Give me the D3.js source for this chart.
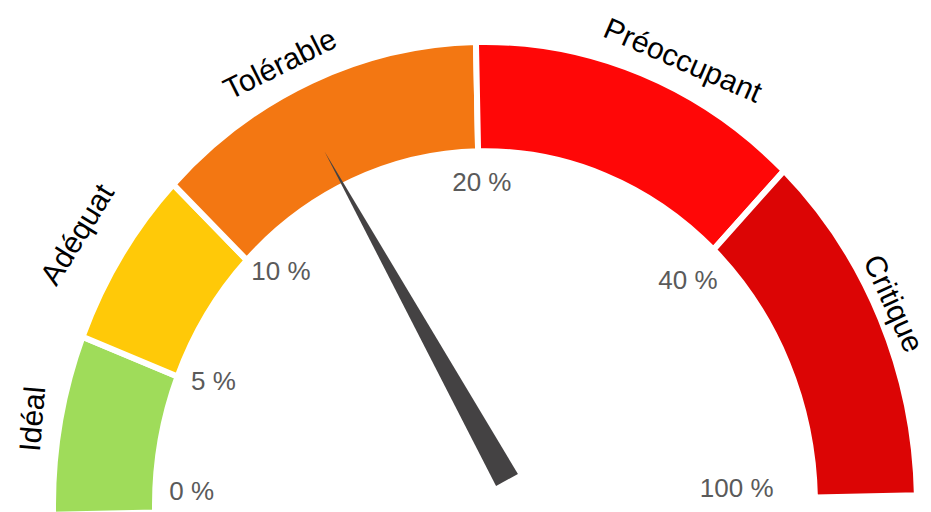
<!DOCTYPE html>
<html>
<head>
<meta charset="utf-8">
<script src="https://cdn.jsdelivr.net/npm/d3@7"></script>
<style>
  html,body{margin:0;padding:0;background:#fff;}
  svg{display:block;font-family:"Liberation Sans",Arial,sans-serif;}
</style>
</head>
<body>
<div id="chart"></div>
<script>
// gauge data
const categories = ['Idéal','Adéquat','Tolérable','Préoccupant','Critique'];
const thresholds = [0, 5, 10, 20, 40, 100];
const tickLabels = ['0 %','5 %','10 %','20 %','40 %','100 %'];
const colors = ['#9fdc5a','#ffc908','#f37712','#ff0707','#dc0505'];
const needleValue = 14.5;

const W = 931, H = 512;
const cx = 485, cy = 505, sy = 1.072, rot = -1.2;
const rIn = 330, rOut = 432;

// piecewise scale: each band gets its own slice of the half circle
const angle = d3.scaleLinear()
  .domain(thresholds)
  .range([-90, -67.5, -45, 0, 45, 90].map(d => d + rot));
const rad = d => d * Math.PI / 180;
function pt(deg, r){ return [cx + r*Math.sin(rad(deg)), cy - sy*r*Math.cos(rad(deg))]; }

const svg = d3.select('#chart').append('svg').attr('width', W).attr('height', H);

const bands = categories.map((c,i) => ({name:c, from:thresholds[i], to:thresholds[i+1], color:colors[i]}));

const arc = d3.arc().innerRadius(rIn).outerRadius(rOut)
  .startAngle(d => rad(angle(d.from))).endAngle(d => rad(angle(d.to)));

const g = svg.append('g').attr('transform', `translate(${cx},${cy}) scale(1,${sy})`);
g.selectAll('path').data(bands).enter().append('path')
  .attr('d', arc).attr('fill', d => d.color)
  .attr('stroke', '#fff').attr('stroke-width', 6)
  .attr('vector-effect', 'non-scaling-stroke');

// tick labels inside the arc (small per-label placement tweaks)
const tickShift = [3.6, 0.2, -0.7, 0.6, 4.2, -2];
const tickR = [316, 316, 320, 301, 313, 289];
svg.selectAll('.tick').data(thresholds).enter().append('text')
  .attr('class','tick')
  .each(function(d,i){
    const a = angle(d) + tickShift[i];
    const [x,y] = pt(a, tickR[i]);
    d3.select(this).attr('x', x).attr('y', y)
      .attr('text-anchor', a < -20 ? 'start' : a > 20 ? 'end' : 'middle');
  })
  .attr('dominant-baseline','central')
  .style('font-size','26px').attr('fill','#5a5a5a')
  .text((d,i) => tickLabels[i]);

// category labels outside the arc
const nudge = [0, -0.8, -2.8, 4.2, -1];
const labelR = [460, 480, 460, 460, 450];
const turn = [-5, 0, 0, -2, 0];
svg.selectAll('.cat').data(bands).enter().append('text')
  .attr('class','cat')
  .attr('transform', (d,i) => {
    const a = (angle(d.from) + angle(d.to))/2 + nudge[i];
    const [x,y] = pt(a, labelR[i]);
    return `translate(${x},${y}) rotate(${a + turn[i]})`;
  })
  .attr('text-anchor','middle').attr('dominant-baseline','central')
  .style('font-size','30px').attr('fill','#000')
  .text(d => d.name);

// needle
const tip = pt(angle(needleValue), 367);
const base = [cx + 22, cy - 25];
const dx = tip[0]-base[0], dy = tip[1]-base[1], len = Math.hypot(dx,dy);
const px = -dy/len*12.5, py = dx/len*12.5;
svg.append('path')
  .attr('d', d3.line()([tip, [base[0]+px, base[1]+py], [base[0]-px, base[1]-py]]) + 'Z')
  .attr('fill','#444243');
</script>
</body>
</html>
